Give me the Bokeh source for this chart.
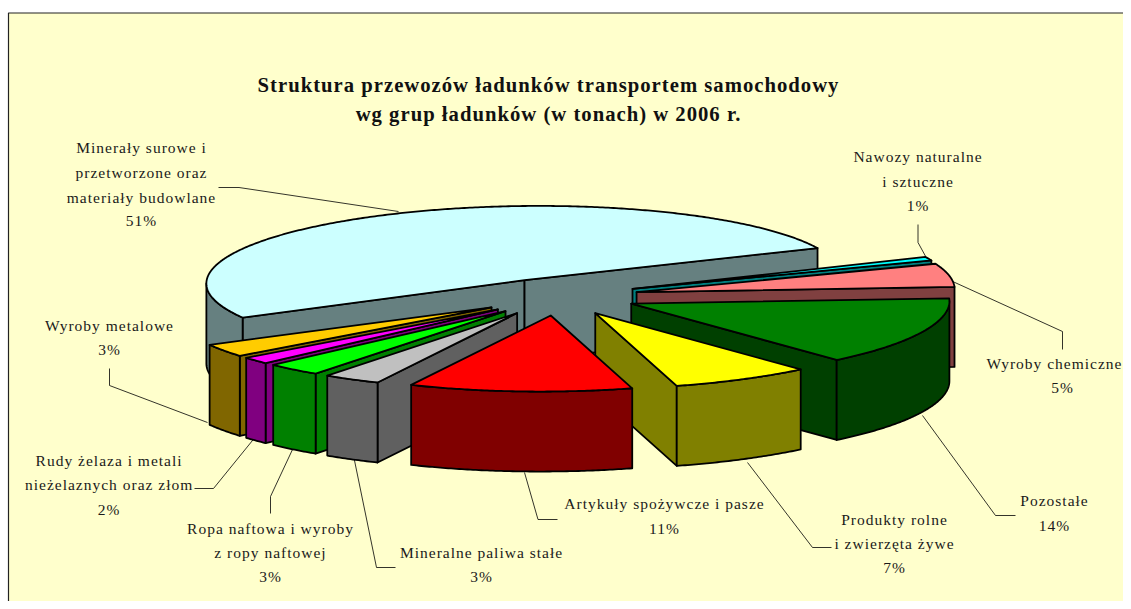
import numpy as np
from bokeh.plotting import figure
from bokeh.models import Range1d
from bokeh.core.properties import value
from bokeh.embed import file_html
from bokeh.resources import INLINE

# ---- data: slices clockwise from the right end of the large slice
categories = ["Nawozy", "Chemiczne", "Pozostałe", "Produkty rolne", "Artykuły",
              "Paliwa stałe", "Ropa", "Rudy", "Metalowe", "Minerały"]
shares = [0.8, 5.0, 14.4, 7.05, 11.35, 2.95, 2.85, 1.5, 2.8, 51.3]

top_colors = ["#00FFFF", "#FF8080", "#008000", "#FFFF00", "#FF0000",
              "#C0C0C0", "#00FF00", "#FF00FF", "#FFCC00", "#CCFFFF"]
side_colors = ["#008080", "#804040", "#004000", "#808000", "#800000",
               "#606060", "#008000", "#800080", "#806600", "#668080"]

title_lines = ["Struktura przewozów ładunków transportem samochodowy",
               "wg grup ładunków (w tonach) w 2006 r."]

label_lines = [
    "Minerały surowe i", "przetworzone oraz", "materiały budowlane", "51%",
    "Nawozy naturalne", "i sztuczne", "1%",
    "Wyroby chemiczne", "5%",
    "Pozostałe", "14%",
    "Produkty rolne", "i zwierzęta żywe", "7%",
    "Artykuły spożywcze i pasze", "11%",
    "Mineralne paliwa stałe", "3%",
    "Ropa naftowa i wyroby", "z ropy naftowej", "3%",
    "Rudy żelaza i metali", "nieżelaznych oraz złom", "2%",
    "Wyroby metalowe", "3%",
]

# ---- layout
SPACING = 1.0
label_x = [141]*4 + [917.5]*3 + [1054, 1062] + [1054]*2 + [894]*3 + [664]*2 + [481]*2 + [270]*3 + [108.6]*3 + [109]*2
label_y = [147, 172, 197, 220, 156, 181, 205, 363, 387, 500, 525, 519, 543, 567,
           503, 528, 552, 576, 528, 552, 576, 460, 484, 509, 325, 349]
title_x = [548, 548]
title_y = [84, 113]

leaders_x = [[218, 238.5, 398], [917.5, 917.5, 929], [950, 1062, 1062], [922, 995, 1015],
             [747, 812, 831], [524, 537.5, 557], [353.6, 376, 395], [292, 270, 270],
             [253.6, 213, 194], [109, 109, 207]]
leaders_y = [[187, 187, 211], [224, 242, 263], [280, 331, 349], [415, 515, 515],
             [462, 547, 547], [472, 519, 519], [458, 567, 567], [449, 496, 513],
             [438, 488, 488], [368, 385, 422]]

CENTER = np.array([558.0, 296.0])
AXIS_A = np.array([293.0, -32.0])
AXIS_B = np.array([124.0, 69.0])
BACK_SQUASH = 0.97
EXPLODE = 0.25
DEPTH = 80.0


def rim(t_deg):
    t = np.radians(t_deg)
    s = np.sin(t)
    b = AXIS_B * np.array([1.0, BACK_SQUASH if s < 0 else 1.0])
    return AXIS_A * np.cos(t) + b * s


xs, ys, fills = [], [], []


def add(poly, color):
    xs.append([float(q[0]) for q in poly])
    ys.append([float(q[1]) for q in poly])
    fills.append(color)


def wall(points, color):
    lower = [q + np.array([0, DEPTH]) for q in points]
    add(list(points) + lower[::-1], color)


bounds = np.concatenate([[0], np.cumsum(shares)]) * 360.0 / sum(shares)
slices = []
for i, name in enumerate(categories):
    t0, t1 = bounds[i], bounds[i + 1]
    apex = CENTER + EXPLODE * rim((t0 + t1) / 2)
    arc = [apex + rim(t) for t in np.linspace(t0, t1, max(3, int(t1 - t0) * 2))]
    slices.append((i, apex, arc))

# painter's order: big slice, right side front-wards, left side front-wards, then the food slice
order = [9, 0, 1, 2, 3, 8, 7, 6, 5, 4]
for i in order:
    _, apex, arc = slices[i]
    if arc[0][0] < apex[0]:
        wall([apex, arc[0]], side_colors[i])
    if apex[0] < arc[-1][0]:
        wall([arc[-1], apex], side_colors[i])
    run = []
    for a, b in zip(arc[:-1], arc[1:]):
        if b[0] < a[0]:
            if not run:
                run.append(a)
            run.append(b)
        elif run:
            wall(run, side_colors[i])
            run = []
    if run:
        wall(run, side_colors[i])
    add([apex] + arc, top_colors[i])

p = figure(width=1123, height=601, x_range=Range1d(0, 1123), y_range=Range1d(601, 0),
           output_backend="svg", toolbar_location=None, min_border=0,
           background_fill_color="white", border_fill_color="white", outline_line_color=None)
p.axis.visible = False
p.grid.visible = False
p.styles = {"letter-spacing": f"{SPACING}px"}

p.quad(left=[8], right=[1160], top=[12.5], bottom=[640], fill_color="#FFFFCC",
       line_color="#222222", line_width=1.2)
p.multi_line(leaders_x, leaders_y, line_color="black", line_width=0.8)
p.patches(xs, ys, fill_color=fills, line_color="black", line_width=1.8, line_join="round")


def shifted(xvals, texts):
    # letter-spacing widens each text beyond what the centring measured
    return [x - len(t) * SPACING / 2 for x, t in zip(xvals, texts)]


p.text(shifted(label_x, label_lines), label_y, text=label_lines, text_font=value("Liberation Serif"),
       text_font_size="15.5px", text_align="center", text_baseline="middle", text_color="#1a1a1a")
p.text(shifted(title_x, title_lines), title_y, text=title_lines, text_font=value("Liberation Serif"),
       text_font_size="20.7px", text_font_style="bold", text_align="center",
       text_baseline="middle", text_color="#111111")

open("out.html", "w").write(file_html(p, INLINE))
